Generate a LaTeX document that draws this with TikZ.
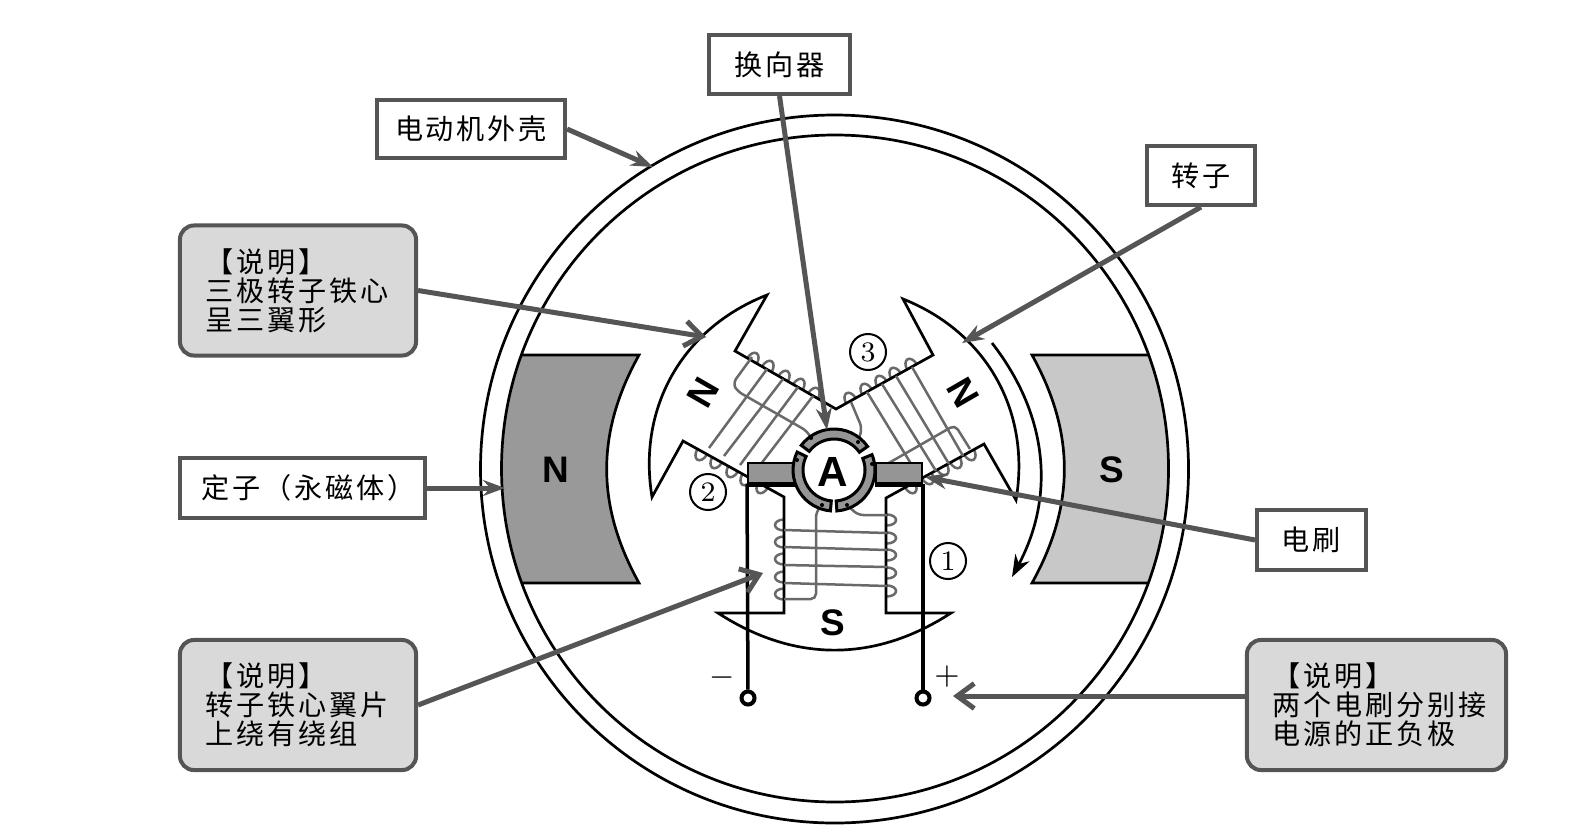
\documentclass[tikz,border=0pt]{standalone}
\usepackage{fontspec}
\usepackage{xcolor}
\usetikzlibrary{arrows.meta, positioning, calc}

\newfontfamily\cjkfont[LetterSpace=10]{Noto Sans CJK SC}
\newfontfamily\polefont{Liberation Sans}

\definecolor{leadgray}{HTML}{555555}
\definecolor{coilgray}{HTML}{696969}
\definecolor{notegray}{HTML}{D9D9D9}
\definecolor{northgray}{HTML}{999999}
\definecolor{southgray}{HTML}{C8C8C8}
\definecolor{ringgray}{HTML}{959595}

\tikzset{
  labelbox/.style={draw=leadgray, line width=0.04cm, fill=white, inner sep=0pt, font=\cjkfont\fontsize{8}{8.3}\selectfont},
  notebox/.style={labelbox, fill=notegray, rounded corners=4pt, align=left, inner xsep=0.26cm, minimum height=1.3cm},
  leadfill/.style={leadgray, line width=0.05cm, -{Stealth[length=0.22cm,width=0.16cm]}},
  leadopen/.style={leadgray, line width=0.05cm, -{Straight Barb[length=0.17cm,width=0.25cm]}},
  coilwire/.style={coilgray, line width=0.025cm, rounded corners=1.5pt},
  blackline/.style={line width=0.027cm},
  brushbox/.style={draw, fill=ringgray, line width=0.02cm, inner sep=0pt, minimum width=0.46cm, minimum height=0.2cm},
  terminal/.style={circle, draw, fill=white, line width=0.04cm, inner sep=0pt, minimum size=0.13cm},
  numcircle/.style={circle, draw, line width=0.02cm, inner sep=0pt, minimum size=0.36cm, font=\fontsize{8}{9}\selectfont},
  polename/.style={font=\polefont\bfseries\fontsize{10.5}{11}\selectfont}
}

\newcommand{\commseg}[2]{%
  \draw[fill=ringgray, line width=0.03cm] (834,470) ++(-#1:41) arc[start angle=-#1, end angle=-#2, radius=41]
    -- ($(834,470)+(-#2:31)$) arc[start angle=-#2, end angle=-#1, radius=31] -- cycle;}

\begin{document}
\begin{tikzpicture}[x=0.01cm, y=-0.01cm]
\useasboundingbox (0,0) rectangle (1592,824);

\draw[blackline] (834.5,469) circle (354);
\draw[fill=northgray, draw=none] (522,355) -- (639,355) to[bend right=29] (639,583) -- (522,583) to[bend left=18] (522,355) -- cycle;
\draw[fill=southgray, draw=none] (1032,355) -- (1148,355) to[bend left=18] (1148,583) -- (1032,583) to[bend right=29] (1032,355) -- cycle;
\draw[blackline] (522,355) -- (639,355) to[bend right=29] (639,583) -- (522,583);
\draw[blackline] (1148,355) -- (1032,355) to[bend left=29] (1032,583) -- (1148,583);
\draw[blackline] (835,468.5) circle (333.5);

\node[polename] at (556,470) {N};
\node[polename] at (1112,470) {S};

\foreach \px/\py in {752/361, 767/369, 783/379, 798/387, 813/396, 702/452, 717/460, 733/469, 747/477, 763/485}
  \draw[coilwire, shift={(\px,\py)}, rotate=60] (0,0) ellipse[x radius=9, y radius=5.5];
\foreach \px/\py in {851/401, 867/392, 882/384, 896/376, 912/367, 969/452, 955/460, 942/467, 927/476, 910/485}
  \draw[coilwire, shift={(\px,\py)}, rotate=120] (0,0) ellipse[x radius=9, y radius=5.5];
\foreach \py in {525, 542, 559, 577, 594}
  \draw[coilwire, shift={(784,\py)}] (0,0) ellipse[x radius=9, y radius=5.5];
\foreach \py in {520, 538, 555, 573, 591}
  \draw[coilwire, shift={(887,\py)}] (0,0) ellipse[x radius=9, y radius=5.5];

\draw[blackline, fill=white] (767,295) -- (735,351) -- (836,409) -- (933,355) -- (903,299)
  to[bend left=39] (1016,500) -- (984,444) -- (886,498) -- (886,613) -- (951,613)
  to[bend left=33] (718,613) -- (784,613) -- (784,497) -- (683,441) -- (652,497)
  to[bend left=39] (767,295) -- cycle;

\foreach \ax/\ay/\bx/\by in {767/369/709/448, 783/379/724/456, 798/387/740/465, 813/396/754/473}
  \draw[coilwire] (\ax,\ay) -- (\bx,\by);
\foreach \ax/\ay/\bx/\by in {912/367/963/456, 896/376/949/464, 882/384/936/471, 867/392/921/480}
  \draw[coilwire] (\ax,\ay) -- (\bx,\by);
\foreach \ly/\ry in {530/533, 547/550, 565/567, 583/586}
  \draw[coilwire] (784,\ly) -- (887,\ry);

\draw[coilwire] (752,357) -- (733,383) -- (737,391) -- (807,431) -- (811,438);
\draw[coilwire] (851,402) -- (862,428) -- (858,442);
\draw[coilwire] (970,449) -- (955,425) -- (887,464);
\draw[coilwire] (784,599) -- (816,599) -- (816,512) -- (822,505);
\draw[coilwire] (847,505) -- (858,515) -- (887,515);

\node[terminal] (tminus) at (748,698) {};
\node[terminal] (tplus) at (923,698) {};
\node[brushbox, anchor=north west] (brushl) at (747,462) {};
\node[brushbox, anchor=north east] (brushr) at (923,462) {};
\draw[line width=0.05cm] (brushl.south west) -- (brushl.south east);
\draw[line width=0.05cm] (brushr.south west) -- (brushr.south east);
\draw[line width=0.035cm] (brushl.south west) -- (tminus);
\draw[line width=0.035cm] (brushr.south east) -- (tplus);

\commseg{35}{143}
\commseg{154}{265}
\commseg{-86}{22}
\foreach \px/\py in {811/438, 858/442, 797/460, 872/464, 822/505, 847/505}
  \fill (\px,\py) circle (2);

\node[polename, font=\polefont\bfseries\fontsize{12}{13}\selectfont] at (833,472) {A};
\node[polename] at (833,623) {S};
\node[polename, rotate=60] at (703,393) {N};
\node[polename, rotate=-60] at (963,393) {N};

\node[numcircle] at (948,561) {1};
\node[numcircle] at (708,492) {2};
\node[numcircle] at (868,352) {3};
\node[font=\fontsize{9}{10}\selectfont] at (722,678) {$-$};
\node[font=\fontsize{9}{10}\selectfont] at (947,677) {$+$};

\draw[blackline, -{Stealth[length=0.22cm,width=0.16cm]}] (992,343) to[bend left=33] (1012,577);

\node[labelbox, minimum width=1.41cm, minimum height=0.59cm] (commlabel) at (779.5,64.5) {换向器};
\node[labelbox, minimum width=1.88cm, minimum height=0.58cm] (shelllabel) at (471,129) {电动机外壳};
\node[labelbox, minimum width=1.08cm, minimum height=0.59cm] (rotorlabel) at (1201,175.5) {转子};
\node[labelbox, minimum width=2.45cm, minimum height=0.6cm] (statorlabel) at (302.5,488) {\hspace{0.12cm}定子（永磁体）};
\node[labelbox, minimum width=1.09cm, minimum height=0.59cm] (brushlabel) at (1311.5,540) {电刷};

\node[notebox, text width=1.84cm] (notecore) at (298,290.5) {【说明】\\三极转子铁心\\呈三翼形};
\node[notebox, text width=1.84cm] (notewing) at (298,705) {【说明】\\转子铁心翼片\\上绕有绕组};
\node[notebox, text width=2.07cm] (notepower) at (1376.5,705) {【说明】\\两个电刷分别接\\电源的正负极};

\coordinate (tipcomm) at (827,430);
\coordinate (tipshell) at (653,167);
\coordinate (tiprotor) at (962,343);
\coordinate (tipstator) at (505,488);
\coordinate (tipbrush) at (925,477);
\coordinate (tipcore) at (706,337);
\coordinate (tipwing) at (763,573);
\coordinate (tippower) at (953,696);

\draw[leadfill] (commlabel.south) -- (tipcomm);
\draw[leadfill] (shelllabel.east) -- (tipshell);
\draw[leadfill] (rotorlabel.south) -- (tiprotor);
\draw[leadfill] (statorlabel.east) -- (tipstator);
\draw[leadfill] (brushlabel.west) -- (tipbrush);
\draw[leadopen] (notecore.east) -- (tipcore);
\draw[leadopen] (notewing.east) -- (tipwing);
\draw[leadopen] (notepower.west |- tippower) -- (tippower);

\end{tikzpicture}
\end{document}
